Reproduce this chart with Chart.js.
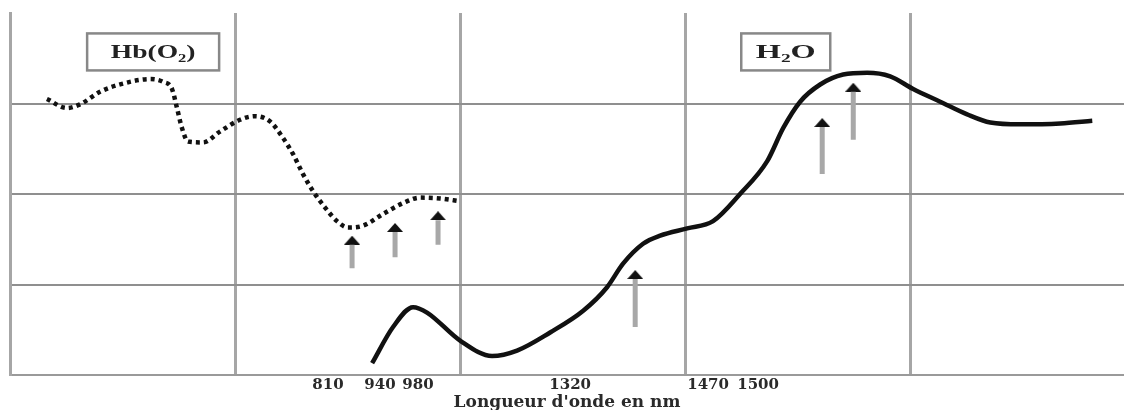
<!DOCTYPE html>
<html>
<head>
<meta charset="utf-8">
<script src="https://cdn.jsdelivr.net/npm/chart.js@4.4.0/dist/chart.umd.min.js"></script>
<style>
  html, body { margin: 0; padding: 0; background: #fff; overflow: hidden; }
  #wrap { width: 1124px; height: 410px; }
</style>
</head>
<body>
<div id="wrap"><canvas id="spectre"></canvas></div>
<script>
// position along the axis: 100 units per grid column, absorbance: 1 unit per grid row
var hb_x = [16.4, 25.3, 31.1, 40.0, 50.2, 62.2, 68.0, 72.0, 74.2, 76.4, 79.1, 85.8, 93.3, 102.2, 108.9,
            115.6, 121.3, 125.8, 130.2, 134.7, 140.0, 145.3, 150.2, 156.9, 165.8, 174.7, 182.2, 191.1, 200.0];
var hb_y = [3.05, 2.95, 2.99, 3.13, 3.22, 3.27, 3.24, 3.16, 2.95, 2.73, 2.58, 2.57, 2.69, 2.82, 2.86,
            2.80, 2.62, 2.44, 2.22, 2.03, 1.85, 1.70, 1.63, 1.65, 1.78, 1.90, 1.96, 1.95, 1.92];

var h2o_x = [160.9, 170.2, 179.1, 185.3, 200.0, 214.2, 225.3, 240.0, 254.7, 265.3, 272.4, 281.3, 288.9,
             300.9, 312.4, 324.4, 336.4, 343.6, 351.1, 360.0, 370.2, 380.9, 391.1, 401.3, 413.3, 425.3,
             435.6, 448.9, 466.7, 480.9];
var h2o_y = [0.13, 0.53, 0.75, 0.69, 0.38, 0.21, 0.27, 0.47, 0.71, 0.97, 1.23, 1.45, 1.54,
             1.62, 1.70, 2.00, 2.36, 2.73, 3.02, 3.21, 3.32, 3.34, 3.30, 3.16, 3.02, 2.88,
             2.79, 2.77, 2.78, 2.81];

// arrows under the marked wavelengths
var arrow_x    = [152.0, 171.1, 190.2, 277.8, 360.9, 374.7];
var arrow_tip  = [1.49, 1.63, 1.76, 1.11, 2.79, 3.18];
var arrow_tail = [1.18, 1.30, 1.44, 0.53, 2.22, 2.60];

// wavelength labels under the axis
var tick_labels = ['810', '940', '980', '1320', '1470', '1500'];
var tick_pos    = [141.3, 164.4, 181.3, 248.9, 310.2, 332.4];
var grid_pos    = [100, 200, 300, 400];

var box_labels = ['Hb(O\u2082)', 'H\u2082O'];
var box_x      = [63.6, 344.7];
var box_y      = [3.57, 3.57];

var hbPoints = hb_x.map(function(x, i) { return { x: x, y: hb_y[i] }; });
var h2oPoints = h2o_x.map(function(x, i) { return { x: x, y: h2o_y[i] }; });

var shafts = [];
arrow_x.forEach(function(x, i) {
    shafts.push({ x: x, y: arrow_tail[i] });
    shafts.push({ x: x, y: arrow_tip[i] - 0.05 });
    shafts.push({ x: x, y: null });
});
var heads = arrow_x.map(function(x, i) { return { x: x, y: arrow_tip[i] }; });

// flat arrow head
var head = document.createElement('canvas');
head.width = 16;
head.height = 9;
var hctx = head.getContext('2d');
hctx.fillStyle = '#111';
hctx.beginPath();
hctx.moveTo(8, 0);
hctx.lineTo(16, 9);
hctx.lineTo(0, 9);
hctx.closePath();
hctx.fill();

// boxed labels (Hb / H2O), text stretched like the scan
const boxPlugin = {
    id: 'boxes',
    afterDatasetsDraw(chart) {
        var c = chart.ctx;
        var xs = chart.scales.x, ys = chart.scales.y;
        var sizes = [[132, 37], [89, 37]];
        var stretch = [1.45, 1.7];
        c.save();
        box_labels.forEach(function(txt, i) {
            var cx = xs.getPixelForValue(box_x[i]);
            var cy = ys.getPixelForValue(box_y[i]);
            var w = sizes[i][0], h = sizes[i][1];
            c.fillStyle = '#fff';
            c.fillRect(cx - w / 2, cy - h / 2, w, h);
            c.strokeStyle = '#888';
            c.lineWidth = 2.5;
            c.strokeRect(cx - w / 2, cy - h / 2, w, h);
            c.save();
            c.translate(cx, cy + 1);
            c.scale(stretch[i], 1);
            c.fillStyle = '#222';
            c.font = 'bold 19px "Liberation Serif"';
            c.textAlign = 'center';
            c.textBaseline = 'middle';
            c.fillText(txt, 0, 0);
            c.restore();
        });
        c.restore();
    }
};

var ctx = document.getElementById('spectre').getContext('2d');

var myChart = new Chart(ctx, {
    type: 'line',
    data: {
        datasets: [
            {
                label: 'Hb(O2)',
                data: hbPoints,
                borderColor: '#111',
                borderWidth: 4.5,
                borderDash: [4, 4],
                borderCapStyle: 'butt',
                cubicInterpolationMode: 'monotone',
                pointRadius: 0,
            },
            {
                label: 'H2O',
                data: h2oPoints,
                borderColor: '#111',
                borderWidth: 4.5,
                cubicInterpolationMode: 'monotone',
                pointRadius: 0,
            },
            {
                label: 'shafts',
                data: shafts,
                borderColor: '#a8a8a8',
                borderWidth: 5,
                borderCapStyle: 'butt',
                spanGaps: false,
                tension: 0,
                pointRadius: 0,
            },
            {
                label: 'heads',
                data: heads,
                showLine: false,
                pointStyle: head,
                pointRadius: 8,
            },
        ]
    },
    options: {
        responsive: true,
        maintainAspectRatio: false,
        animation: false,
        layout: {
            autoPadding: false,
            padding: { left: 10, top: 13, right: 0, bottom: 0 },
        },
        plugins: {
            legend: { display: false },
            tooltip: { enabled: false },
        },
        scales: {
            x: {
                type: 'linear',
                min: 0,
                max: 495,
                afterBuildTicks: function(scale) {
                    scale.ticks = grid_pos.concat(tick_pos)
                        .sort(function(a, b) { return a - b; })
                        .map(function(v) { return { value: v }; });
                },
                afterFit: function(scale) {
                    scale.height = 35;
                    scale.paddingLeft = 0;
                    scale.paddingRight = 0;
                },
                grid: {
                    drawTicks: false,
                    color: function(c) {
                        return grid_pos.indexOf(c.tick.value) >= 0 ? '#a6a6a6' : 'rgba(0,0,0,0)';
                    },
                    lineWidth: 3,
                },
                border: { display: true, color: '#9a9a9a', width: 2 },
                ticks: {
                    autoSkip: false,
                    maxRotation: 0,
                    padding: 1,
                    color: '#2a2a2a',
                    font: { family: '"DejaVu Serif"', size: 15, weight: 'bold' },
                    callback: function(value) {
                        var i = tick_pos.indexOf(value);
                        return i >= 0 ? tick_labels[i] : '';
                    },
                },
                title: {
                    display: true,
                    text: "Longueur d'onde en nm",
                    color: '#2a2a2a',
                    font: { family: '"DejaVu Serif"', size: 17, weight: 'bold' },
                    padding: { top: 0, bottom: -3 },
                },
            },
            y: {
                min: 0,
                max: 4,
                afterFit: function(scale) {
                    scale.width = 0;
                },
                ticks: { display: false, stepSize: 1 },
                grid: {
                    drawTicks: false,
                    color: function(c) {
                        var v = c.tick.value;
                        return (v > 0 && v < 4) ? '#8f8f8f' : 'rgba(0,0,0,0)';
                    },
                    lineWidth: 2,
                },
                border: { display: true, color: '#a6a6a6', width: 3 },
            },
        },
    },
    plugins: [boxPlugin],
});
</script>
</body>
</html>
